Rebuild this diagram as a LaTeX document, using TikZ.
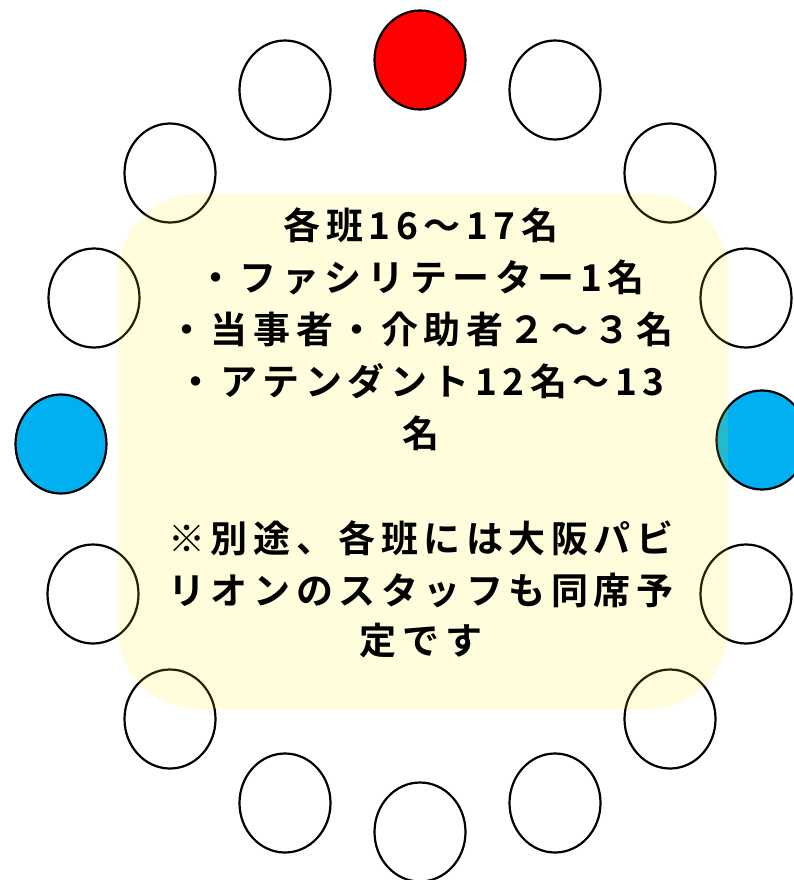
\documentclass[tikz,border=0pt]{standalone}
\usepackage{fontspec}
\usetikzlibrary{shapes.geometric}
\newfontfamily\jpfont{Noto Sans CJK JP}[BoldFont={* Bold}, LetterSpace=15]
\definecolor{seatblue}{RGB}{0,176,240}
\definecolor{seatred}{RGB}{255,0,0}
\tikzset{
  seat/.style={ellipse, draw=black, line width=2.2pt, fill=white, minimum width=91pt, minimum height=99pt, inner sep=0pt},
  infobox/.style={fill=yellow, fill opacity=0.14, rounded corners=80pt},
  txt/.style={font=\jpfont\bfseries\fontsize{37}{40}\selectfont, inner sep=0pt, anchor=base}
}
\begin{document}
\begin{tikzpicture}[x=1pt,y=-1pt]
\useasboundingbox (0,0) rectangle (794,880);
\fill[white] (0,0) rectangle (794,880);
% seats
\node[seat, fill=seatred] (c1) at (420,60) {};
\node[seat] (c2) at (285,90) {};
\node[seat] (c3) at (555,90) {};
\node[seat] (c4) at (170,173) {};
\node[seat] (c5) at (670,173) {};
\node[seat] (c6) at (94,298) {};
\node[seat] (c7) at (746,298) {};
\node[seat, fill=seatblue] (c8) at (61,444) {};
\node[seat, fill=seatblue] (c9) at (762,440) {};
\node[seat] (c10) at (93,594) {};
\node[seat] (c11) at (746,594) {};
\node[seat] (c12) at (170,719) {};
\node[seat] (c13) at (670,719) {};
\node[seat] (c14) at (285,803) {};
\node[seat] (c15) at (555,803) {};
\node[seat] (c16) at (420,832) {};
% box
\fill[infobox] (118,194) rectangle (728,709);
% text
\node[txt] (t1) at (421,239) {各班16～17名};
\node[txt] (t2) at (421,291) {・ファシリテーター1名};
\node[txt] (t3) at (421,343) {・当事者・介助者２～３名};
\node[txt] (t4) at (421,395) {・アテンダント12名～13};
\node[txt] (t5) at (421,447) {名};
\node[txt] (t7) at (421,552) {※別途、各班には大阪パビ};
\node[txt] (t8) at (421,604) {リオンのスタッフも同席予};
\node[txt] (t9) at (421,654) {定です};
\end{tikzpicture}
\end{document}
